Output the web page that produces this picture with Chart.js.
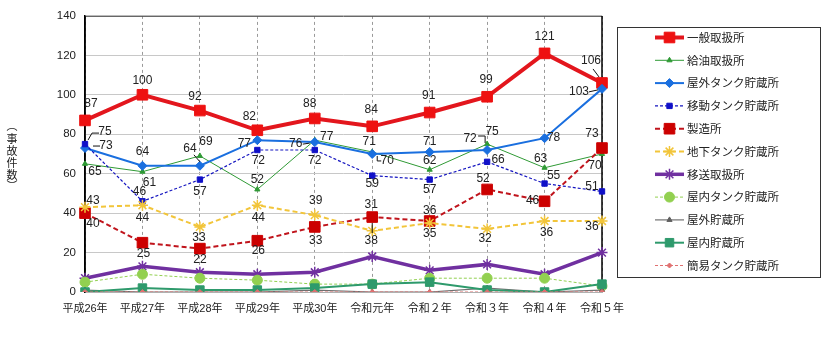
<!DOCTYPE html>
<html>
<head>
<meta charset="utf-8">
<script src="https://cdn.jsdelivr.net/npm/chart.js@4/dist/chart.umd.min.js"></script>
<style>
  html, body { margin: 0; padding: 0; background: #ffffff; }
  #c { display: block; }
</style>
</head>
<body>
<canvas id="c" width="824" height="340"></canvas>
<script>
// ---- data ----
const categories = ['平成26年', '平成27年', '平成28年', '平成29年', '平成30年', '令和元年', '令和２年', '令和３年', '令和４年', '令和５年'];
const yMin = 0;
const yMax = 140;
const yStep = 20;

const seriesNames = ['一般取扱所', '給油取扱所', '屋外タンク貯蔵所', '移動タンク貯蔵所', '製造所', '地下タンク貯蔵所',
  '移送取扱所', '屋内タンク貯蔵所', '屋外貯蔵所', '屋内貯蔵所', '簡易タンク貯蔵所'];

const ippanToriatsukai = [87, 100, 92, 82, 88, 84, 91, 99, 121, 106];
const kyuyuToriatsukai = [65, 61, 69, 52, 77, 71, 62, 75, 63, 70];
const okugaiTank = [73, 64, 64, 77, 76, 70, 71, 72, 78, 103];
const idoTank = [75, 46, 57, 72, 72, 59, 57, 66, 55, 51];
const seizosho = [40, 25, 22, 26, 33, 38, 36, 52, 46, 73];
const chikaTank = [43, 44, 33, 44, 39, 31, 35, 32, 36, 36];
const isoToriatsukai = [7, 13, 10, 9, 10, 18, 11, 14, 9, 20];
const okunaiTank = [5, 9, 7, 6, 4, 4, 7, 7, 7, 3];
const okugaiChozo = [1, 0, 0, 0, 1, 0, 0, 2, 0, 1];
const okunaiChozo = [0, 2, 1, 1, 2, 4, 5, 1, 0, 4];
const kaniTank = [0, 0, 0, 0, 0, 0, 0, 0, 0, 0];

const seriesValues = [ippanToriatsukai, kyuyuToriatsukai, okugaiTank, idoTank, seizosho, chikaTank,
  isoToriatsukai, okunaiTank, okugaiChozo, okunaiChozo, kaniTank];

// ---- appearance of each series ----
const seriesStyles = [
  { color: '#e3161d', fill: '#ee1111', width: 4,   dash: [],     point: 'rect',     radius: 7.5, pointBorder: 1 },
  { color: '#2f9a35', fill: '#2f9a35', width: 1,   dash: [],     point: 'triangle', radius: 3,   pointBorder: 1 },
  { color: '#1a6fdf', fill: '#1a6fdf', width: 2,   dash: [],     point: 'rectRot',  radius: 4.5, pointBorder: 1 },
  { color: '#1414c0', fill: '#1010c8', width: 1.2, dash: [3, 2], point: 'rect',     radius: 3.8, pointBorder: 1 },
  { color: '#c0141c', fill: '#cc0000', width: 2,   dash: [5, 3], point: 'rect',     radius: 7.5, pointBorder: 1 },
  { color: '#f2c53a', fill: '#f2c53a', width: 2,   dash: [5, 3], point: 'star',     radius: 5.5, pointBorder: 1.5 },
  { color: '#7030a0', fill: '#7030a0', width: 3.5, dash: [],     point: 'star',     radius: 5.5, pointBorder: 1.5 },
  { color: '#92d050', fill: '#92d050', width: 1,   dash: [3, 2], point: 'circle',   radius: 5,   pointBorder: 1 },
  { color: '#707070', fill: '#606060', width: 1.2, dash: [],     point: 'triangle', radius: 3,   pointBorder: 1 },
  { color: '#2e9a6c', fill: '#2e9a6c', width: 2,   dash: [],     point: 'rect',     radius: 6,   pointBorder: 1 },
  { color: '#e07070', fill: '#e07070', width: 1,   dash: [3, 2], point: 'rectRot',  radius: 2.5, pointBorder: 1 }
];

// value label placement: [dx, dy, optional leader polyline], offsets from the point
const labelPlacement = {
  0: [[6, -17], [0, -14], [-5, -14], [-8, -14], [-5, -15], [-1, -17], [-1, -17], [-1, -17], [0, -17],
      [-11, -22, [[-9, -14], [-3, -6]]]],
  1: [[10, 8], [7, 11], [6, -14], [0, -10], [12, -3], [-3, -10], [0, -9], [5, -12], [-4, -9], [-7, 12]],
  2: [[21, -2, [[8, -2], [15, -2]]], [0, -14], [-10, -17, [[-6, -11], [0, -4]]], [-13, 4],
      [-19, 2, [[-12, 2], [-5, 1]]], [15, 7, [[5, 2], [5, 7], [9, 7]]], [0, -10],
      [-17, -11, [[-9, -14], [-2, -14], [-2, -7]]], [9, 0], [-23, 3, [[-13, 3], [-4, 1]]]],
  3: [[20, -12, [[3, -4], [7, -11], [14, -11]]], [-3, -10], [0, 12], [1, 11], [0, 11], [0, 8], [0, 10],
      [11, -2], [9, -8], [-10, -5]],
  4: [[8, 11], [1, 11], [0, 11], [1, 10], [1, 14], [-1, 24, [[0, 6], [0, 16]]], [0, -10], [-4, -11],
      [-12, -1], [-10, -14]],
  5: [[8, -7], [0, 12], [-1, 11], [1, 12], [1, -14], [-1, -26], [0, 11], [-2, 10], [2, 12], [-10, 6]]
};

const tickFont = '"Liberation Sans", "Noto Sans CJK JP", sans-serif';
const labelFont = '12px "Liberation Sans Narrow", "Liberation Sans", sans-serif';
const textColor = '#222222';

const datasets = seriesNames.map((name, i) => {
  const s = seriesStyles[i];
  return {
    label: name,
    data: seriesValues[i],
    borderColor: s.color,
    backgroundColor: s.fill,
    borderWidth: s.width,
    borderDash: s.dash,
    pointStyle: s.point,
    pointRadius: s.radius,
    pointBorderWidth: s.pointBorder,
    pointBorderColor: s.point === 'star' ? s.color : s.fill,
    pointBackgroundColor: s.fill,
    tension: 0,
    fill: false,
    order: seriesNames.length - i
  };
});

// frame of the plotting area
const framePlugin = {
  id: 'plotFrame',
  beforeDatasetsDraw(chart) {
    const { ctx, chartArea: a } = chart;
    ctx.save();
    ctx.setLineDash([]);
    ctx.lineWidth = 1;
    ctx.strokeStyle = '#555555';
    ctx.beginPath();
    ctx.moveTo(a.left, a.top + 0.5);
    ctx.lineTo(a.right, a.top + 0.5);
    ctx.stroke();
    ctx.strokeStyle = '#000000';
    ctx.lineWidth = 1.5;
    ctx.beginPath();
    ctx.moveTo(a.right, a.top);
    ctx.lineTo(a.right, a.bottom);
    ctx.moveTo(a.left, a.top);
    ctx.lineTo(a.left, a.bottom);
    ctx.stroke();
    ctx.restore();
  }
};

// value labels next to the points
const valueLabelPlugin = {
  id: 'valueLabels',
  afterDatasetsDraw(chart) {
    const { ctx } = chart;
    ctx.save();
    ctx.font = labelFont;
    ctx.fillStyle = textColor;
    ctx.textAlign = 'center';
    ctx.textBaseline = 'middle';
    Object.keys(labelPlacement).forEach((key) => {
      const di = Number(key);
      const meta = chart.getDatasetMeta(di);
      const values = chart.data.datasets[di].data;
      labelPlacement[key].forEach((p, i) => {
        const el = meta.data[i];
        if (!el) return;
        const x = el.x, y = el.y;
        if (p[2]) {
          ctx.save();
          ctx.strokeStyle = '#111111';
          ctx.lineWidth = 1;
          ctx.setLineDash([]);
          ctx.beginPath();
          p[2].forEach((q, k) => {
            if (k === 0) ctx.moveTo(x + q[0], y + q[1]);
            else ctx.lineTo(x + q[0], y + q[1]);
          });
          ctx.stroke();
          ctx.restore();
        }
        ctx.fillText(String(values[i]), x + p[0], y + p[1]);
      });
    });
    ctx.restore();
  }
};

// vertical axis caption and boxed legend
const sideTextPlugin = {
  id: 'sideText',
  afterDraw(chart) {
    const { ctx } = chart;
    ctx.save();
    ctx.fillStyle = textColor;
    ctx.font = '11px "Noto Sans CJK JP", sans-serif';
    ctx.textAlign = 'center';
    ctx.textBaseline = 'middle';
    const caption = ['︵', '事', '故', '件', '数', '︶'];
    const captionY = [126, 139, 151, 163, 175, 186];
    caption.forEach((ch, k) => ctx.fillText(ch, 12, captionY[k]));

    // legend box
    ctx.strokeStyle = '#333333';
    ctx.lineWidth = 1;
    ctx.strokeRect(617.5, 27.5, 203, 250);
    const drawPoint = Chart.helpers.drawPoint;
    chart.data.datasets.forEach((ds, i) => {
      const s = seriesStyles[i];
      const y = 37.5 + i * 22.8;
      ctx.save();
      ctx.strokeStyle = s.color;
      ctx.lineWidth = s.width;
      ctx.setLineDash(s.dash);
      ctx.beginPath();
      ctx.moveTo(655, y);
      ctx.lineTo(684, y);
      ctx.stroke();
      ctx.setLineDash([]);
      ctx.fillStyle = s.fill;
      ctx.strokeStyle = s.point === 'star' ? s.color : s.fill;
      ctx.lineWidth = s.pointBorder;
      drawPoint(ctx, { pointStyle: s.point, radius: s.radius, rotation: 0, borderWidth: s.pointBorder }, 669.5, y);
      ctx.restore();
      ctx.fillStyle = textColor;
      ctx.font = '11.5px "Noto Sans CJK JP", sans-serif';
      ctx.textAlign = 'left';
      ctx.fillText(ds.label, 687, y);
    });
    ctx.restore();
  }
};

new Chart(document.getElementById('c'), {
  type: 'line',
  data: { labels: categories, datasets },
  options: {
    responsive: false,
    animation: false,
    events: [],
    layout: { padding: { left: 0, right: 222, top: 5, bottom: 0 } },
    plugins: { legend: { display: false }, tooltip: { enabled: false } },
    scales: {
      x: {
        type: 'category',
        offset: false,
        grid: { color: '#9a9a9a', lineWidth: 1, drawTicks: false },
        border: { display: true, color: '#b0b0b0', dash: [3, 3] },
        ticks: { color: textColor, padding: 10, maxRotation: 0, autoSkip: false,
                 font: { family: tickFont, size: 11 } },
        afterFit(scale) { scale.height = 48; }
      },
      y: {
        min: yMin,
        max: yMax,
        grid: { color: '#c8c8c8', lineWidth: 1, drawTicks: false },
        border: { display: true, color: '#000000', width: 1.5 },
        ticks: { stepSize: yStep, color: textColor, padding: 9,
                 font: { family: tickFont, size: 11.5 } },
        afterFit(scale) { scale.width = 85; }
      }
    }
  },
  plugins: [framePlugin, valueLabelPlugin, sideTextPlugin]
});
</script>
</body>
</html>
